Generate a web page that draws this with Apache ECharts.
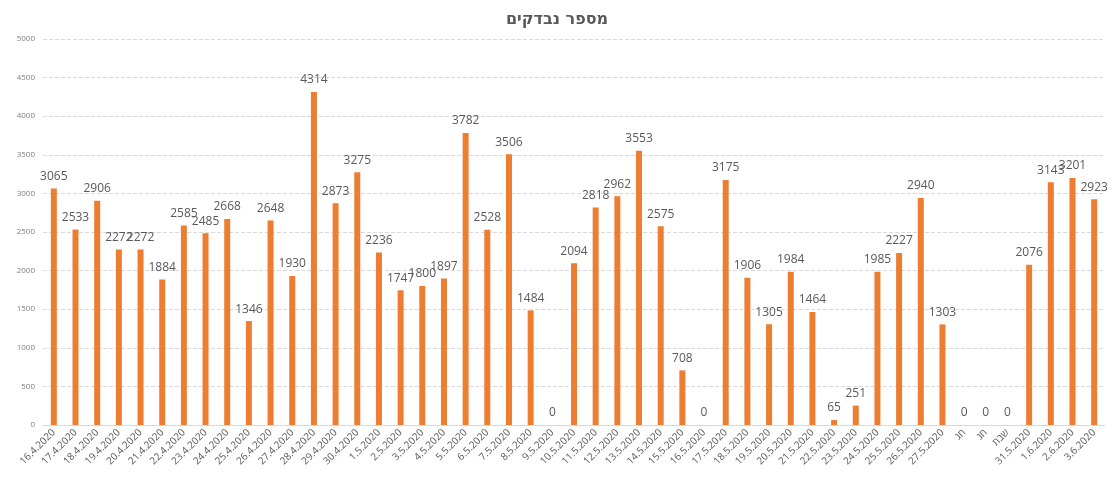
<!DOCTYPE html>
<html>
<head>
<meta charset="utf-8">
<script src="https://cdn.jsdelivr.net/npm/echarts@6/dist/echarts.min.js"></script>
<style>
html, body { margin: 0; padding: 0; background: #fff; }
#chart { width: 1114px; height: 486px; }
</style>
</head>
<body>
<div id="chart"></div>
<script>
// תאריכים
var dates = [
	'16.4.2020', '17.4.2020', '18.4.2020', '19.4.2020', '20.4.2020', '21.4.2020', '22.4.2020',
	'23.4.2020', '24.4.2020', '25.4.2020', '26.4.2020', '27.4.2020', '28.4.2020', '29.4.2020',
	'30.4.2020', '1.5.2020', '2.5.2020', '3.5.2020', '4.5.2020', '5.5.2020', '6.5.2020',
	'7.5.2020', '8.5.2020', '9.5.2020', '10.5.2020', '11.5.2020', '12.5.2020', '13.5.2020',
	'14.5.2020', '15.5.2020', '16.5.2020', '17.5.2020', '18.5.2020', '19.5.2020', '20.5.2020',
	'21.5.2020', '22.5.2020', '23.5.2020', '24.5.2020', '25.5.2020', '26.5.2020', '27.5.2020',
	'חג', 'חג', 'שבת', '31.5.2020', '1.6.2020', '2.6.2020', '3.6.2020'
];
// מספר נבדקים
var tested = [
	3065, 2533, 2906, 2272, 2272, 1884, 2585,
	2485, 2668, 1346, 2648, 1930, 4314, 2873,
	3275, 2236, 1747, 1800, 1897, 3782, 2528,
	3506, 1484, 0, 2094, 2818, 2962, 3553,
	2575, 708, 0, 3175, 1906, 1305, 1984,
	1464, 65, 251, 1985, 2227, 2940, 1303,
	0, 0, 0, 2076, 3143, 3201, 2923
];
var yTicks = [0, 500, 1000, 1500, 2000, 2500, 3000, 3500, 4000, 4500, 5000];

var myChart = echarts.init(document.getElementById('chart'));
var option = {
	animation: false,
	textStyle: { fontFamily: 'Open Sans, DejaVu Sans, sans-serif' },
	title: {
		text: 'מספר נבדקים',
		left: 'center',
		top: 7,
		textStyle: {
			fontFamily: 'DejaVu Sans, sans-serif',
			fontWeight: 'bold',
			fontSize: 16,
			color: '#595959'
		}
	},
	grid: { left: 43, right: 9, top: 39, bottom: 61 },
	xAxis: {
		type: 'category',
		data: dates,
		axisTick: { show: false },
		axisLine: { lineStyle: { color: '#d9d9d9' } },
		axisLabel: {
			interval: 0,
			rotate: 45,
			fontSize: 10,
			color: '#595959',
			margin: 6
		}
	},
	yAxis: {
		type: 'value',
		min: yTicks[0],
		max: yTicks[yTicks.length - 1],
		interval: 500,
		axisLine: { show: false },
		axisTick: { show: false },
		axisLabel: {
			fontSize: 8,
			color: '#7f7f7f',
			margin: 8,
			formatter: function (v) { return String(v); }
		},
		splitLine: { lineStyle: { color: '#d9d9d9', type: 'dashed' } }
	},
	series: [{
		name: 'מספר נבדקים',
		type: 'bar',
		data: tested,
		barWidth: 6,
		itemStyle: { color: '#ED7D31' },
		label: {
			show: true,
			position: 'top',
			fontSize: 12,
			color: '#595959',
			distance: 6
		}
	}]
};
myChart.setOption(option);
</script>
</body>
</html>
